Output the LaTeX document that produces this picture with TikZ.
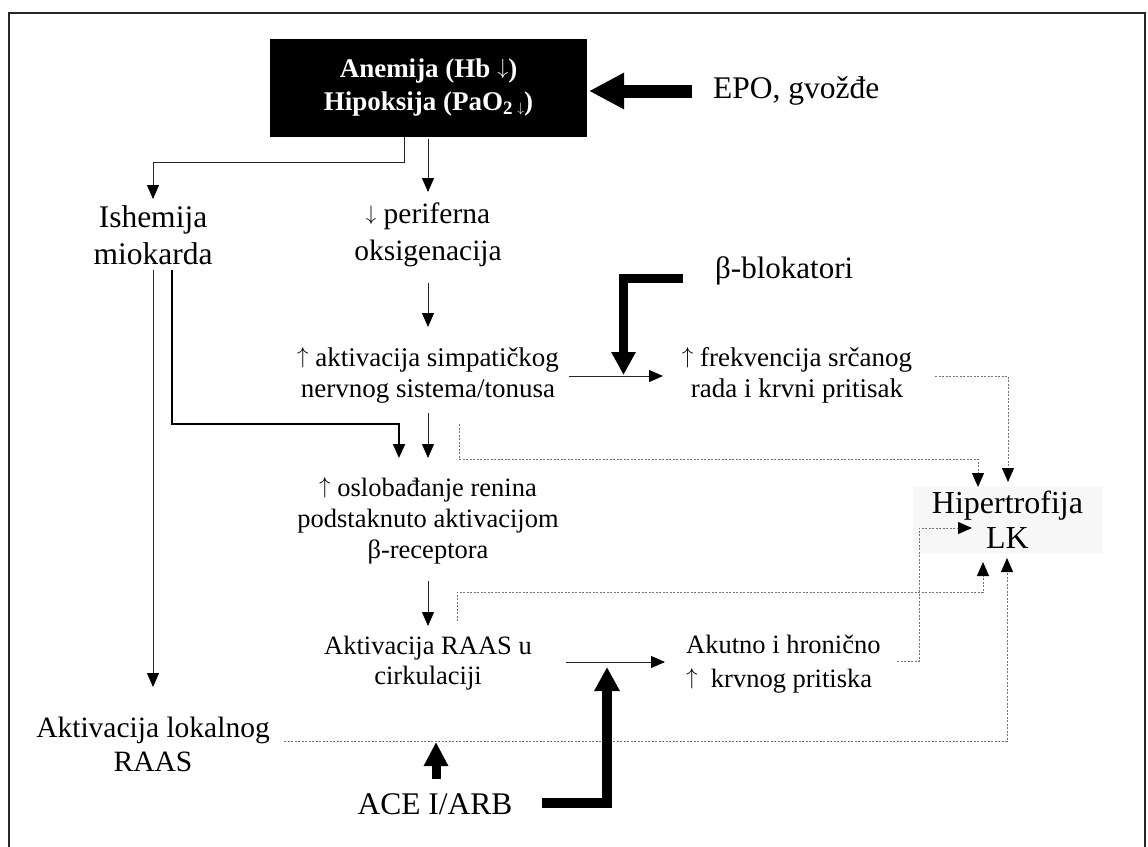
\documentclass[tikz,border=0pt]{standalone}
\usepackage{fontspec}
\setmainfont{Liberation Serif}
\usetikzlibrary{arrows.meta}
% arrow glyph: #1 symbol, #2 scale, #3 raise
\newcommand{\arrsym}[3]{\raisebox{#3}{\fontsize{10pt}{12pt}\selectfont\scalebox{#2}{$#1$}}}
\newcommand{\UpA}{\arrsym{\uparrow}{2.3}{3pt}}
\begin{document}
\begin{tikzpicture}[x=1pt,y=-1pt,
  big/.style={font=\fontsize{31.5pt}{37pt}\selectfont, align=center, inner sep=0pt},
  mid/.style={font=\fontsize{27pt}{31pt}\selectfont, align=center, inner sep=0pt},
  thinarr/.style={draw=black!85, line width=1pt, -{Triangle[length=14pt,width=12pt,color=black]}},
  boldarr/.style={draw=black, line width=2pt, -{Triangle[length=14pt,width=12pt,color=black]}},
  dotarr/.style={draw=black!55, line width=1pt, dash pattern=on 2pt off 1.5pt, -{Triangle[length=14pt,width=12pt,color=black]}},
  blockarr/.style={draw=black, line join=miter, line cap=butt}
]
\useasboundingbox (0,0) rectangle (1148,846);
\draw[line width=1.5pt, black!85] (9,13) rectangle (1145,849);

% nodes
\node[fill=black, text=white, minimum width=317pt, minimum height=98pt, inner sep=0pt, align=center,
      font=\bfseries\fontsize{27pt}{33pt}\selectfont] (box) at (428.5,88)
      {Anemija (Hb \arrsym{\downarrow}{2.2}{3pt})\\Hipoksija (PaO\textsubscript{2}\,\arrsym{\downarrow}{1.35}{-1.2pt})};
\node[big, anchor=west] (epo) at (713,91) {EPO, gvožđe};
\node[big, anchor=west, font=\fontsize{31pt}{37pt}\selectfont] (beta) at (715,271) {β-blokatori};
\node[big] (ish) at (153,235) {Ishemija\\miokarda};
\node[big, font=\fontsize{29.5pt}{37pt}\selectfont] (per) at (428,235) {\arrsym{\downarrow}{2.1}{3.5pt}\ periferna\\oksigenacija};
\node[mid] (simp) at (428,375) {\UpA\ aktivacija simpatičkog\\nervnog sistema/tonusa};
\node[mid] (fre) at (797,375) {\UpA\ frekvencija srčanog\\rada i krvni pritisak};
\node[mid, font=\fontsize{26.5pt}{31pt}\selectfont] (ren) at (428,521) {\UpA\ oslobađanje renina\\podstaknuto aktivacijom\\β-receptora};
\node[mid, font=\fontsize{26.5pt}{30pt}\selectfont] (raas) at (428,663) {Aktivacija RAAS u\\cirkulaciji};
\node[mid, align=left, anchor=west, font=\fontsize{26.5pt}{34pt}\selectfont] (akut) at (686,664) {Akutno i hronično\\\UpA\ \ krvnog pritiska};
\node[big, font=\fontsize{29.5pt}{34pt}\selectfont] (lok) at (153,744) {Aktivacija lokalnog\\RAAS};
\node[big] (ace) at (435,804) {ACE I/ARB};
\node[fill=black!3, minimum width=189pt, minimum height=66pt, inner sep=0pt, align=center,
      font=\fontsize{32pt}{35pt}\selectfont] (hip) at (1007.5,520) {Hipertrofija\\LK};

% thin arrows
\draw[thinarr] (404,137) |- (153,162) -- (153,199);
\draw[thinarr] (428,139) -- (428,192);
\draw[thinarr] (428,283) -- (428,327);
\draw[thinarr] (428,413) -- (428,458);
\draw[thinarr] (153,270) -- (153,687);
\draw[thinarr] (428,581) -- (428,626);
\draw[thinarr] (569,376) -- (663,376);
\draw[thinarr] (566,662) -- (665,662);
\draw[boldarr] (172,270) |- (399,424) -- (399,458);

% dotted arrows to hypertrophy
\draw[dotarr] (459,424) |- (978,459) -- (978,487);
\draw[dotarr] (935,376) -| (1008,482);
\draw[dotarr] (457,621) |- (983,592) -- (983,562);
\draw[dotarr] (897,661) -| (919,528) -- (972,528);
\draw[dotarr] (284,741) -| (1007,558);

% block arrows
\draw[blockarr, line width=13pt, -{Triangle[length=35pt,width=34pt]}] (692,91) -- (589,91);
\draw[blockarr, line width=9pt, -{Triangle[length=23pt,width=23pt]}] (683,278.5) -| (623.5,375);
\draw[blockarr, line width=9pt, -{Triangle[length=24pt,width=23pt]}] (436,779) -- (436,742);
\draw[blockarr, line width=10pt, -{Triangle[length=24pt,width=24pt]}] (542,803) -| (607,667);
\end{tikzpicture}
\end{document}
